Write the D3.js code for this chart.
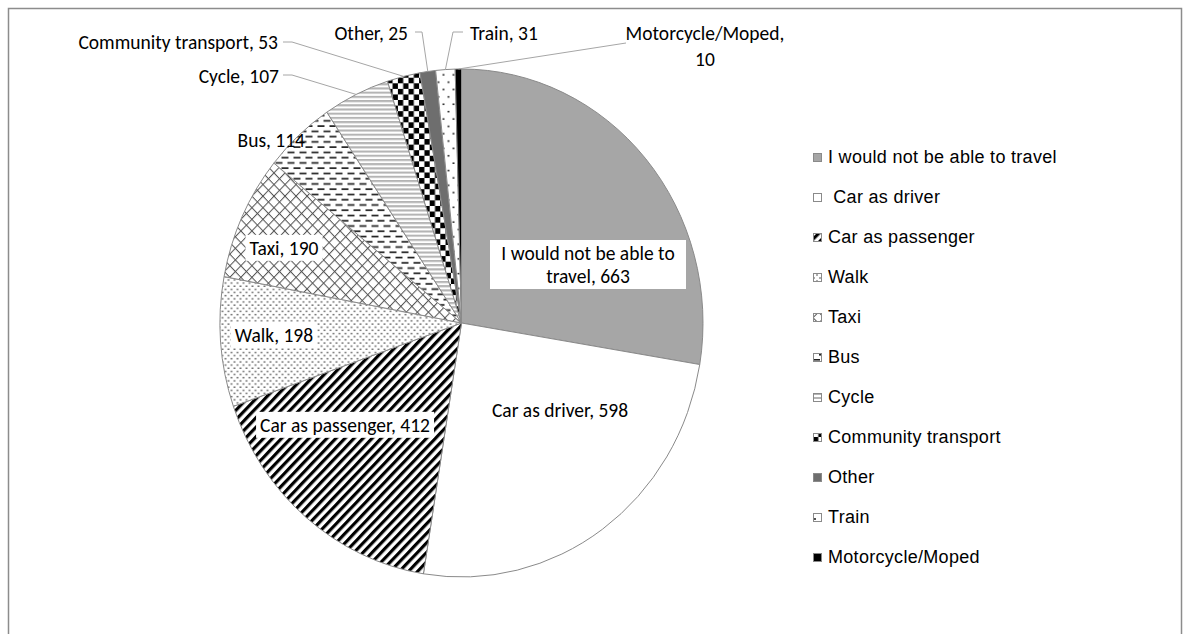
<!DOCTYPE html>
<html><head><meta charset="utf-8">
<script src="https://cdn.jsdelivr.net/npm/d3@7"></script>
<style>body{margin:0;background:#fff} svg{display:block}</style>
</head><body>
<svg id="chart" width="1190" height="634"></svg>
<script>
// ---- data ----
const categories = ["I would not be able to travel","Car as driver","Car as passenger","Walk","Taxi","Bus","Cycle","Community transport","Other","Train","Motorcycle/Moped"];
const values = [663,598,412,198,190,114,107,53,25,31,10];
const legendLabels = ["I would not be able to travel"," Car as driver","Car as passenger","Walk","Taxi","Bus","Cycle","Community transport","Other","Train","Motorcycle/Moped"];
const labelLines = [["I would not be able to","travel, 663"],["Car as driver, 598"],["Car as passenger, 412"],["Walk, 198"],["Taxi, 190"],["Bus, 114"],["Cycle, 107"],["Community transport, 53"],["Other, 25"],["Train, 31"],["Motorcycle/Moped,","10"]];

// ---- layout ----
const W = 1190, H = 634;
const cx = 461.5, cy = 323, rx = 241.5, ry = 254;
const svg = d3.select("#chart");
const defs = svg.append("defs");

function pat(id, w, h, transform) {
  const p = defs.append("pattern").attr("id", id).attr("patternUnits", "userSpaceOnUse")
    .attr("width", w).attr("height", h);
  if (transform) p.attr("patternTransform", transform);
  p.append("rect").attr("width", w).attr("height", h).attr("fill", "#fff");
  return p;
}
// passenger: wide upward diagonal
let p = pat("pPass", 6.4, 6.4, "rotate(45)");
p.append("rect").attr("x", 0).attr("width", 3.1).attr("height", 6.4).attr("fill", "#000");
// walk: dots
p = pat("pWalk", 6, 6);
[[1,1],[4,4]].forEach(d => p.append("circle").attr("cx", d[0]).attr("cy", d[1]).attr("r", 0.75).attr("fill", "#333"));
// taxi: diagonal cross hatch
p = pat("pTaxi", 7.8, 7.8, "rotate(45)");
p.append("rect").attr("x", 0).attr("width", 1).attr("height", 7.8).attr("fill", "#555");
p.append("rect").attr("y", 0).attr("width", 7.8).attr("height", 1).attr("fill", "#555");
// bus: staggered horizontal dashes
p = pat("pBus", 12, 10);
[[0,2],[6,7],[-6,7]].forEach(d => p.append("rect").attr("x", d[0]).attr("y", d[1]).attr("width", 7).attr("height", 1.6).attr("fill", "#222"));
// cycle: horizontal gray stripes
p = pat("pCycle", 4, 4);
p.append("rect").attr("y", 0).attr("width", 4).attr("height", 2).attr("fill", "#b4b4b4");
// community: checkerboard
p = pat("pComm", 10.6, 10.6);
p.append("rect").attr("width", 5.3).attr("height", 5.3).attr("fill", "#000");
p.append("rect").attr("x", 5.3).attr("y", 5.3).attr("width", 5.3).attr("height", 5.3).attr("fill", "#000");
// train: sparse dots
p = pat("pTrain", 10, 14);
[[2,2],[7,9]].forEach(d => p.append("circle").attr("cx", d[0]).attr("cy", d[1]).attr("r", 0.9).attr("fill", "#000"));

const fills = ["#a6a6a6","#ffffff","url(#pPass)","url(#pWalk)","url(#pTaxi)","url(#pBus)","url(#pCycle)","url(#pComm)","#6e6e6e","url(#pTrain)","#000000"];

// frame
svg.append("rect").attr("x", 8.5).attr("y", 8.5).attr("width", 1173).attr("height", 700)
  .attr("fill", "none").attr("stroke", "#8c8c8c").attr("stroke-width", 1.5);

// ---- pie ----
const pie = d3.pie().sort(null).value(d => d)(values);
const arc = d3.arc().innerRadius(0).outerRadius(rx);
const g = svg.append("g").attr("transform", `translate(${cx},${cy}) scale(1,${ry/rx})`);
g.selectAll("path").data(pie).join("path")
  .attr("d", arc)
  .attr("fill", (d, i) => fills[i])
  .attr("stroke", "#8a8a8a").attr("stroke-width", 1)
  .attr("vector-effect", "non-scaling-stroke");

function edgePoint(d) {
  const a = (d.startAngle + d.endAngle) / 2;
  return [cx + rx * Math.sin(a), cy - ry * Math.cos(a)];
}

// label placement (text centre / anchor positions)
const labelPos = [
  {x: 588, y: 253, anchor: "middle", box: [490, 240, 196, 49], lh: 23},
  {x: 560, y: 410, anchor: "middle", box: null, lh: 23},
  {x: 345, y: 425, anchor: "middle", box: "auto", lh: 23},
  {x: 274, y: 335, anchor: "middle", box: "auto", lh: 23},
  {x: 284, y: 248, anchor: "middle", box: "auto", lh: 23},
  {x: 305, y: 140, anchor: "end", box: null, lh: 23},
  {x: 279, y: 76, anchor: "end", box: null, lh: 23, leader: [[283,75],[292,75]]},
  {x: 278, y: 42, anchor: "end", box: null, lh: 23, leader: [[283,42],[292,42]]},
  {x: 408, y: 33, anchor: "end", box: null, lh: 23, leader: [[415,32],[422,32]]},
  {x: 470, y: 33, anchor: "start", box: null, lh: 23, leader: [[463,32],[453,32]]},
  {x: 705, y: 33, anchor: "middle", box: null, lh: 26, leader: [[626,43]]}
];

const lg = svg.append("g");
pie.forEach((d, i) => {
  const L = labelPos[i];
  if (L.leader) {
    const pts = L.leader.concat([edgePoint(d)]);
    lg.append("path").attr("d", d3.line()(pts)).attr("fill", "none")
      .attr("stroke", "#a6a6a6").attr("stroke-width", 1);
  }
});
const tg = svg.append("g").style("font-family", "Carlito, Calibri, Lato, sans-serif").style("font-size", "19.5px").attr("fill", "#000");
pie.forEach((d, i) => {
  const L = labelPos[i];
  const grp = tg.append("g");
  const t = grp.append("text").attr("text-anchor", L.anchor);
  labelLines[i].forEach((s, k) => {
    t.append("tspan").attr("x", L.x).attr("y", L.y + k * L.lh).attr("dy", "0.35em").text(s);
  });
  if (L.box) {
    let b;
    if (L.box === "auto") {
      const bb = t.node().getBBox();
      b = [bb.x - 4, bb.y - 1, bb.width + 8, bb.height + 2];
    } else b = L.box;
    grp.insert("rect", "text").attr("x", b[0]).attr("y", b[1]).attr("width", b[2]).attr("height", b[3]).attr("fill", "#fff");
  }
});

// ---- legend ----
const leg = svg.append("g").attr("transform", "translate(813,157)");
const rowH = 40;
legendLabels.forEach((s, i) => {
  const r = leg.append("g").attr("transform", `translate(0,${i * rowH})`);
  r.append("rect").attr("x", 0.5).attr("y", -3.5).attr("width", 8).attr("height", 8)
    .attr("fill", fills[i]).attr("stroke", "#8a8a8a").attr("stroke-width", 1);
  r.append("text").attr("x", 15).attr("y", 0).attr("dy", "0.35em")
    .style("font-family", "'Liberation Sans', Arial, sans-serif").style("font-size", "18px")
    .style("letter-spacing", "0.3px").style("white-space", "pre").text(s);
});
</script>
</body></html>
